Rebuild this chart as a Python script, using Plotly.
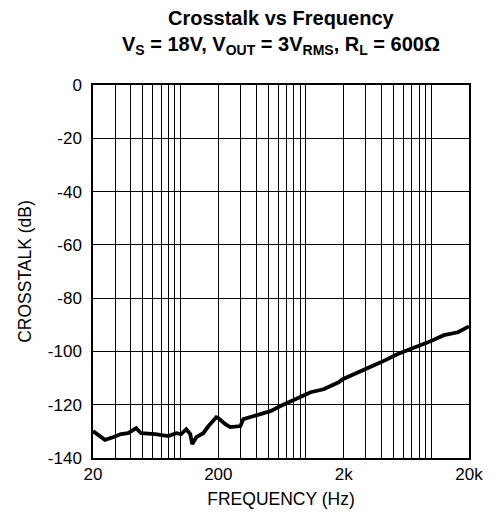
import plotly.graph_objects as go

freq_hz = [20, 24.9, 28.9, 33.5, 38.1, 44.2, 48.4, 62.7, 79.6, 92.3, 101, 110.9, 119.4,
           123.9, 133.4, 151.7, 166.4, 192.7, 200, 227.5, 249.5, 300, 317, 381, 521, 627,
           753, 906, 1089, 1384, 1824, 1964, 2891, 3953, 5409, 6871, 9397, 12619, 16337, 20000]
crosstalk_db = [-129.9, -133.2, -132.2, -131.0, -130.7, -128.8, -130.7, -131.0, -131.8, -130.7,
                -131.0, -129.2, -131.0, -134.8, -132.2, -130.7, -128.1, -124.7, -125.0, -127.3,
                -128.4, -128.0, -125.4, -124.3, -122.4, -120.5, -118.7, -117.2, -115.3, -114.2,
                -111.6, -110.4, -107.1, -104.1, -101.0, -99.2, -96.6, -93.9, -92.8, -90.6]

x_grid_vals = [m * d for d in (10, 100, 1000, 10000) for m in range(1, 10) if 20 <= m * d <= 20000] + [20000]
x_label_map = {20: "20", 200: "200", 2000: "2k", 20000: "20k"}
x_grid_text = [x_label_map.get(v, "") for v in x_grid_vals]
y_tick_vals = [0, -20, -40, -60, -80, -100, -120, -140]
y_tick_text = ["0", "-20", "-40", "-60", "-80", "-100", "-120", "-140"]

title_line1 = "<b>Crosstalk vs Frequency</b>"
title_line2 = "<b>V<sub>S</sub> = 18V, V<sub>OUT</sub> = 3V<sub>RMS</sub>, R<sub>L</sub> = 600Ω</b>"

fig = go.Figure()
fig.add_trace(go.Scatter(x=freq_hz, y=crosstalk_db, mode="lines",
                         line=dict(color="black", width=3.8), showlegend=False))

font_family = "Liberation Sans, Arial, sans-serif"
fig.update_layout(
    width=490, height=507,
    margin=dict(l=85, r=29, t=77, b=57),
    paper_bgcolor="white", plot_bgcolor="white",
    font=dict(family=font_family, size=17, color="black"),
    xaxis=dict(
        type="log", range=[1.30103, 4.30103],
        tickvals=x_grid_vals, ticktext=x_grid_text,
        showgrid=True, gridcolor="black", gridwidth=1.2,
        showline=True, linecolor="black", linewidth=1.5, mirror=True,
        ticks="", tickfont=dict(size=17), automargin=False,
        title=dict(text="FREQUENCY (Hz)", font=dict(size=17.5), standoff=10),
        zeroline=False,
    ),
    yaxis=dict(
        range=[-140, 0], tickvals=y_tick_vals, ticktext=y_tick_text,
        showgrid=True, gridcolor="black", gridwidth=1.2,
        showline=True, linecolor="black", linewidth=1.5, mirror=True,
        ticks="", tickfont=dict(size=17), ticklabelstandoff=6, automargin=False,
        title=dict(text="CROSSTALK (dB)", font=dict(size=17.5), standoff=12),
        zeroline=False,
    ),
    annotations=[
        dict(text=title_line1, xref="paper", yref="paper", x=0.5, y=1,
             xanchor="center", yanchor="middle", yshift=67, showarrow=False,
             font=dict(size=20, family=font_family, color="black")),
        dict(text=title_line2, xref="paper", yref="paper", x=0.5, y=1,
             xanchor="center", yanchor="middle", yshift=40, showarrow=False,
             font=dict(size=20, family=font_family, color="black")),
    ],
)

fig.write_html("out.html")
